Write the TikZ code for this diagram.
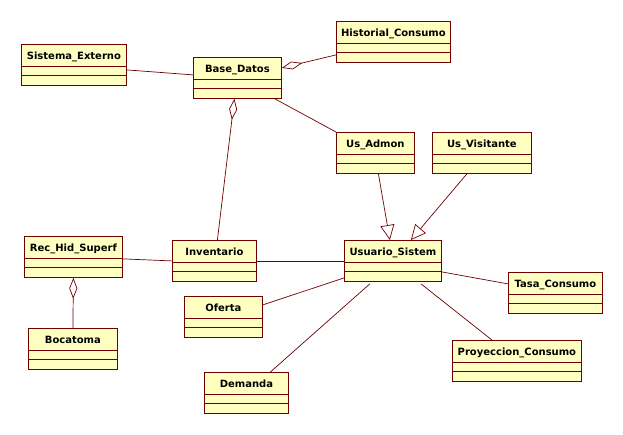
\documentclass[tikz,border=0pt]{standalone}
\usepackage{fontspec}
\setmainfont{DejaVu Sans}
\usetikzlibrary{arrows.meta}
\definecolor{umlline}{RGB}{110,0,0}
\definecolor{umlfill}{RGB}{255,255,194}
\begin{document}
\begin{tikzpicture}[x=1pt,y=-1pt,-,thin,
    class node/.style={draw=umlline,fill=umlfill,line width=0.8pt,anchor=north west,
        minimum height=41pt,inner ysep=6pt,text height=9pt,text depth=20pt,
        font=\fontsize{10}{12}\selectfont\bfseries,
        path picture={
            \draw[umlline,line width=0.8pt] ([yshift=-22pt]path picture bounding box.north west) -- ([yshift=-22pt]path picture bounding box.north east);
            \draw[umlline,line width=0.8pt] ([yshift=-31pt]path picture bounding box.north west) -- ([yshift=-31pt]path picture bounding box.north east);
        }},
    link/.style={draw=umlline,line width=0.7pt},
    agg/.style={link,-{Diamond[open,length=21pt,width=8pt]}},
    gen/.style={link,-{Triangle[open,length=15pt,width=14pt]}}]

    \useasboundingbox (0,0) rectangle (623,434);

    \node[class node,minimum width=105pt] (ext) at (21,44) {Sistema\_Externo};
    \node[class node,minimum width=88pt] (base) at (193,57) {Base\_Datos};
    \node[class node,minimum width=114pt] (hist) at (336,21) {Historial\_Consumo};
    \node[class node,minimum width=78pt] (admon) at (336,132) {Us\_Admon};
    \node[class node,minimum width=99pt] (visit) at (432,132) {Us\_Visitante};
    \node[class node,minimum width=98pt] (rec) at (24,236) {Rec\_Hid\_Superf};
    \node[class node,minimum width=84pt] (inv) at (172,240) {Inventario};
    \node[class node,minimum width=97pt] (usr) at (344,240) {Usuario\_Sistem};
    \node[class node,minimum width=89pt] (boca) at (28,328) {Bocatoma};
    \node[class node,minimum width=78pt] (ofer) at (184,296) {Oferta};
    \node[class node,minimum width=84pt] (dem) at (204,372) {Demanda};
    \node[class node,minimum width=94pt] (tasa) at (508,272) {Tasa\_Consumo};
    \node[class node,minimum width=129pt] (proy) at (452,340) {Proyeccion\_Consumo};

    \path
        ([yshift=-5pt]ext.east) edge[link] ([yshift=3pt]base.west)
        ([yshift=-13pt]hist.west) edge[agg] ([yshift=10pt]base.east)
        ([xshift=3pt]inv.north) edge[agg] ([xshift=-3pt]base.south)
        ([xshift=-7pt]base.south east) edge[link] (admon.north west)
        ([xshift=3pt]admon.south) edge[gen] ([xshift=-3pt]usr.north)
        ([xshift=-15pt]visit.south) edge[gen] ([xshift=18pt]usr.north)
        ([yshift=-2pt]rec.east) edge[link] (inv.west)
        (boca.north) edge[agg] (rec.south)
        (inv.east) edge[link] (usr.west)
        ([yshift=12pt]ofer.east) edge[link] ([yshift=-17pt]usr.west)
        ([xshift=24pt]dem.north) edge[link] ([xshift=-23pt,yshift=-2pt]usr.south)
        ([yshift=-11pt]usr.east) edge[link] ([yshift=9pt]tasa.west)
        ([xshift=28pt,yshift=-2pt]usr.south) edge[link] ([xshift=-25pt]proy.north)
        ;
\end{tikzpicture}
\end{document}
